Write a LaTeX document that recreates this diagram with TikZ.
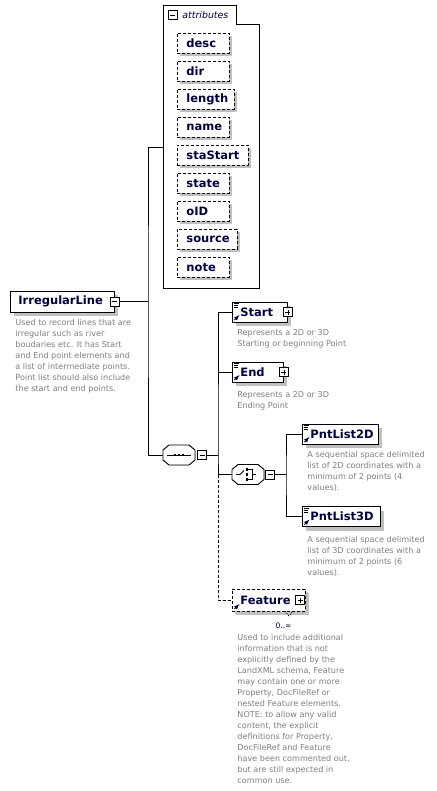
\documentclass[tikz,border=0pt]{standalone}
\usepackage{fontspec}
\setmainfont{DejaVu Sans}
\usetikzlibrary{shadows}
\definecolor{navy}{RGB}{0,0,64}
\definecolor{descgray}{RGB}{128,128,128}
\definecolor{shade}{RGB}{192,192,192}
\newcommand{\namefont}{\fontsize{11.5}{13}\selectfont\bfseries}
\newcommand{\descfont}{\fontsize{8.1}{11}\selectfont}
\newcommand{\chamferpath}[1]{([shift={(-16pt,-5pt)}]#1) -- ([shift={(-10pt,-10pt)}]#1) -- ([shift={(10pt,-10pt)}]#1) -- ([shift={(16pt,-5pt)}]#1) -- ([shift={(16pt,5pt)}]#1) -- ([shift={(10pt,10pt)}]#1) -- ([shift={(-10pt,10pt)}]#1) -- ([shift={(-16pt,5pt)}]#1) -- cycle}
\newcommand{\groupbox}[1]{%
  \fill[shade, shift={(4pt,-4pt)}] \chamferpath{#1.center};
  \draw[fill=white] \chamferpath{#1.center};}
\tikzset{
  boxshadow/.style={drop shadow={shadow xshift=#1, shadow yshift=-#1, fill=shade, opacity=1}},
  elem/.style={draw, fill=white, anchor=west, minimum height=20pt, inner sep=0pt,
    align=left, font=\namefont, text=navy, boxshadow=4pt},
  icons/.style={path picture={
    \draw[line width=0.6pt] ([shift={(2pt,-1.5pt)}]path picture bounding box.north west) -- ++(5pt,0pt);
    \draw[line width=0.6pt] ([shift={(2pt,-3.5pt)}]path picture bounding box.north west) -- ++(4pt,0pt);
    \draw[line width=0.6pt] ([shift={(2pt,-5.5pt)}]path picture bounding box.north west) -- ++(4pt,0pt);
    \draw[line width=0.9pt, -latex] ([shift={(2pt,2pt)}]path picture bounding box.south west) -- ++(5pt,5pt);}},
  reficon/.style={path picture={
    \draw[line width=0.9pt, -latex] ([shift={(2pt,2pt)}]path picture bounding box.south west) -- ++(5pt,5pt);}},
  attr/.style={draw, dashed, dash pattern=on 3pt off 2pt, fill=white, anchor=north west,
    minimum height=20pt, inner sep=0pt, align=left, font=\namefont, text=navy, boxshadow=3pt},
  desc/.style={anchor=north west, inner sep=0pt, align=left, font=\descfont, text=descgray},
  group/.style={minimum width=32pt, minimum height=20pt, inner sep=0pt},
  mbox/.style={draw, solid, fill=white, minimum size=9pt, inner sep=0pt, path picture={
    \draw[line width=0.7pt] ([xshift=2pt]path picture bounding box.west) -- ([xshift=-2pt]path picture bounding box.east);}},
  pbox/.style={draw, solid, fill=white, minimum size=9pt, inner sep=0pt, path picture={
    \draw[line width=0.7pt] ([xshift=2pt]path picture bounding box.west) -- ([xshift=-2pt]path picture bounding box.east);
    \draw[line width=0.7pt] ([yshift=2pt]path picture bounding box.south) -- ([yshift=-2pt]path picture bounding box.north);}},
}
\begin{document}
\begin{tikzpicture}[x=1pt, y=-1pt, line width=0.9pt]
\fill[white] (0,0) rectangle (436,791);
\useasboundingbox (0,0) rectangle (436,791);

\draw (163,5) -- (236,5) -- (236,24) -- (259,24) -- (259,288) -- (163,288) -- cycle;
\node[mbox] (attr-m) at (172.5,15) {};
\node[anchor=west, inner sep=0pt, font=\fontsize{9.4}{11}\selectfont\itshape, text=navy] (attr-t) at (182,15) {attributes};
\foreach \n/\w [count=\i from 0] in {desc/52,dir/52,length/57,name/52,staStart/71,state/52,oID/52,source/60,note/52}
  \node[attr, text width=\w pt] (a-\n) at (177,33+28*\i) {\hspace*{9pt}\n};
\coordinate (attr-in) at (163,147);

\node[elem, text width=104pt, minimum height=21pt] (irr) at (10,301.5) {\hspace*{8pt}IrregularLine};
\node[mbox] (irr-m) at (irr.east) {};
\node[desc] (irr-d) at (15,319) {Used to record lines that are\\irregular such as river\\boudaries etc. It has Start\\and End point elements and\\a list of intermediate points.\\Point list should also include\\the start and end points.};

\node[group] (seq) at (179,455) {};
\groupbox{seq}
\draw[line width=0.8pt] ([xshift=-12pt]seq.center) -- ([xshift=12pt]seq.center);
\foreach \dx in {-4,0,4}
  \fill ([shift={(\dx pt-1.2pt,-1.2pt)}]seq.center) rectangle ++(2.4pt,2.4pt);
\node[mbox] (seq-m) at (202,455) {};
\coordinate (j1) at (148,301.5);
\coordinate (j2) at (218,455);
\coordinate (j3) at (218,474.5);

\node[elem, icons, text width=55pt] (start) at (232,312) {\hspace*{8pt}Start};
\node[pbox] (start-p) at (start.east) {};
\node[desc] (start-d) at (237,329.5) {Represents a 2D or 3D\\Starting or beginning Point};

\node[elem, icons, text width=51pt] (end) at (232,372) {\hspace*{8pt}End};
\node[pbox] (end-p) at (end.east) {};
\node[desc] (end-d) at (237,391) {Represents a 2D or 3D\\Ending Point};

\node[group] (choice) at (248,474.5) {};
\groupbox{choice}
\draw[line width=0.8pt] ([xshift=-12pt]choice.center) -- ([xshift=-8pt]choice.center) -- ([shift={(-4pt,4pt)}]choice.center);
\foreach \dy in {-5,0,5}
  \fill ([shift={(-2.2pt,\dy pt-1.1pt)}]choice.center) rectangle ++(2.2pt,2.2pt);
\draw[line width=0.8pt] ([shift={(0pt,5pt)}]choice.center) -- ([shift={(4pt,5pt)}]choice.center) -- ([shift={(4pt,-5pt)}]choice.center) -- ([shift={(0pt,-5pt)}]choice.center);
\draw[line width=0.8pt] ([shift={(4pt,0pt)}]choice.center) -- ([shift={(8pt,0pt)}]choice.center);
\node[mbox] (choice-m) at (270,474.5) {};
\coordinate (j4) at (286,474.5);

\node[elem, icons, text width=76pt] (p2d) at (302,434) {\hspace*{8pt}PntList2D};
\node[desc] (p2d-d) at (307,451) {A sequential space delimited\\list of 2D coordinates with a\\minimum of 2 points (4\\values).};

\node[elem, icons, text width=78pt] (p3d) at (302,516.5) {\hspace*{8pt}PntList3D};
\node[desc] (p3d-d) at (307,535.5) {A sequential space delimited\\list of 3D coordinates with a\\minimum of 2 points (6\\values).};

\node[attr, reficon, anchor=west, text width=73pt, minimum height=22pt, boxshadow=4pt] (feat) at (232,600) {\hspace*{8pt}Feature};
\node[pbox] (feat-p) at (300,600) {};
\draw[line width=0.6pt, dash pattern=on 1.5pt off 1pt] (285,611) -- (289,616) -- (293,611);
\node[anchor=center, inner sep=0pt, font=\fontsize{7.6}{9}\selectfont, text=navy] (feat-n) at (283.5,626) {0..∞};
\node[desc] (feat-d) at (237,633.5) {Used to include additional\\information that is not\\explicitly defined by the\\LandXML schema, Feature\\may contain one or more\\Property, DocFileRef or\\nested Feature elements.\\NOTE: to allow any valid\\content, the explicit\\definitions for Property,\\DocFileRef and Feature\\have been commented out,\\but are still expected in\\common use.};

\draw (irr-m.east) -- (j1);
\draw (attr-in) -| (j1) |- (seq.west);
\draw (seq-m.east) -- (j2);
\draw (start.west) -| (j2) -- (j3) -- (choice.west);
\draw (end.west) -- (end.west -| j2);
\draw[dash pattern=on 3pt off 2pt] (j3) |- (feat.west);
\draw (choice-m.east) -- (j4);
\draw (p2d.west) -| (j4) |- (p3d.west);
\end{tikzpicture}
\end{document}
